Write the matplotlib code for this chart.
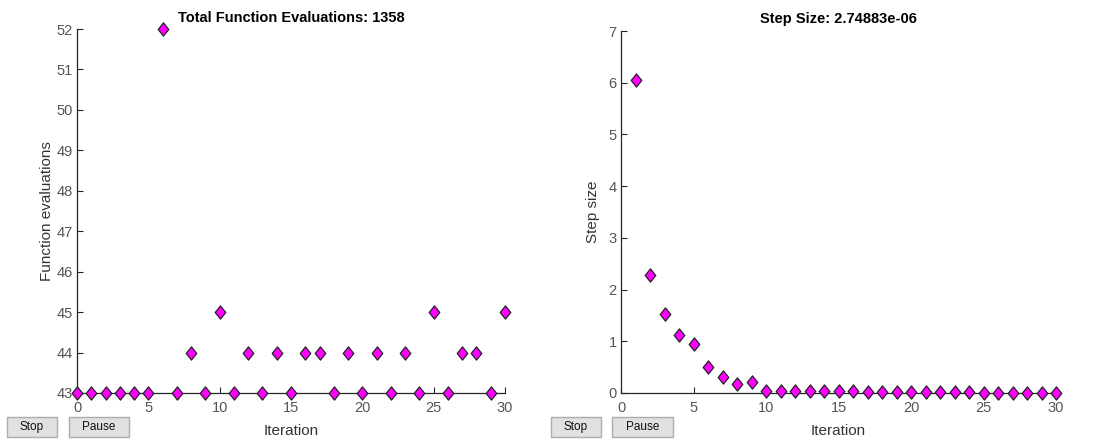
import numpy as np
import matplotlib
matplotlib.use("Agg")
import matplotlib.pyplot as plt
from matplotlib.patches import Rectangle
from matplotlib.path import Path

plt.rcParams['font.family'] = ['Liberation Sans', 'DejaVu Sans']

# function evaluations per iteration (iterations 0..30)
iters_fe = list(range(0, 31))
func_evals = [43, 43, 43, 43, 43, 43, 52, 43, 44, 43, 45, 43, 44, 43, 44, 43,
              44, 44, 43, 44, 43, 44, 43, 44, 43, 45, 43, 44, 44, 43, 45]

# mesh step size per iteration (iterations 1..30)
iters_ss = list(range(1, 31))
step_size = [6.05, 2.28, 1.53, 1.13, 0.94, 0.51, 0.31, 0.18, 0.22, 0.045,
             0.035, 0.035, 0.035, 0.035, 0.035, 0.035, 0.02, 0.02, 0.02, 0.015,
             0.015, 0.012, 0.012, 0.01, 0.008, 0.008, 0.006, 0.005, 0.004, 0.003]

title_fe = 'Total Function Evaluations: %d' % sum(func_evals)
title_ss = 'Step Size: 2.74883e-06'

axis_col = '#262626'
tick_col = '#555555'
W, H = 1094, 441

# slightly tall diamond, like the MATLAB 'd' marker
diamond = Path([(0, 1), (0.8, 0), (0, -1), (-0.8, 0), (0, 1)],
               [Path.MOVETO, Path.LINETO, Path.LINETO, Path.LINETO, Path.CLOSEPOLY])

fig = plt.figure(figsize=(W / 100, H / 100), dpi=100)


def style(ax):
    for s in ['top', 'right']:
        ax.spines[s].set_visible(False)
    for s in ['left', 'bottom']:
        ax.spines[s].set_color(axis_col)
        ax.spines[s].set_linewidth(0.9)
        ax.spines[s].set_zorder(1)
    ax.tick_params(direction='in', length=4, width=0.8, color=axis_col,
                   labelcolor=tick_col, labelsize=10.5)
    ax.tick_params(axis='x', pad=6)
    ax.tick_params(axis='y', pad=3)


def scatter(ax, x, y):
    ax.plot(x, y, linestyle='none', marker=diamond, ms=9.5, mfc='#ff00ff',
            mec='#222222', mew=0.9, clip_on=False, zorder=3)


ax1 = fig.add_axes([77 / W, 1 - 393 / H, (505 - 77) / W, (393 - 29) / H])
scatter(ax1, iters_fe, func_evals)
ax1.set_xlim(0, 30)
ax1.set_ylim(43, 52)
ax1.set_xticks(range(0, 31, 5))
ax1.set_yticks(range(43, 53))
style(ax1)
ax1.set_title(title_fe, fontsize=10.5, fontweight='bold', color='black', pad=5)
ax1.set_xlabel('Iteration', fontsize=11, color='#333333', labelpad=6)
ax1.set_ylabel('Function evaluations', fontsize=11, color='#333333', labelpad=2)

ax2 = fig.add_axes([621 / W, 1 - 393 / H, (1056 - 621) / W, (393 - 31) / H])
scatter(ax2, iters_ss, step_size)
ax2.set_xlim(0, 30)
ax2.set_ylim(0, 7)
ax2.set_xticks(range(0, 31, 5))
ax2.set_yticks(range(0, 8))
style(ax2)
ax2.set_title(title_ss, fontsize=10.5, fontweight='bold', color='black', pad=6)
ax2.set_xlabel('Iteration', fontsize=11, color='#333333', labelpad=6)
ax2.set_ylabel('Step size', fontsize=11, color='#333333', labelpad=6)

# Stop / Pause buttons under each panel
buttons = [('Stop', 7, 57), ('Pause', 69, 129), ('Stop', 551, 601), ('Pause', 612, 673)]
for label, x0, x1 in buttons:
    y0, y1 = 417, 437
    fig.patches.append(Rectangle((x0 / W, 1 - y1 / H), (x1 - x0) / W, (y1 - y0) / H,
                                 transform=fig.transFigure, facecolor='#e1e1e1',
                                 edgecolor='#adadad', linewidth=1.0))
    fig.text((x0 + x1) / 2 / W, 1 - (y0 + y1) / 2 / H, label, ha='center',
             va='center', fontsize=8.5, color='#111111')

fig.savefig('out.png', dpi=100)
